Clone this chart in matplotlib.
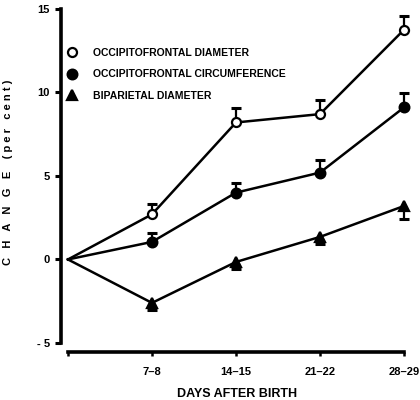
import matplotlib
matplotlib.use("Agg")
import matplotlib.pyplot as plt
import numpy as np

plt.rcParams["font.family"] = ["Liberation Sans", "DejaVu Sans"]

# x = 0 is birth, then the four age groups
days = ["", "7\u20138", "14\u201315", "21\u201322", "28\u201329"]
x = np.arange(len(days))

# per cent change (first point is the common origin)
ofd = [0, 2.7, 8.2, 8.7, 13.75]
ofc = [0, 1.05, 4.0, 5.2, 9.1]
bpd = [0, -2.6, -0.15, 1.35, 3.2]

# one-sided error bars (ofd / ofc upwards, bpd downwards)
ofd_err = [0, 0.6, 0.85, 0.85, 0.85]
ofc_err = [0, 0.55, 0.55, 0.75, 0.85]
bpd_err = [0, 0.45, 0.45, 0.4, 0.8]

labels = [
    "OCCIPITOFRONTAL DIAMETER",
    "OCCIPITOFRONTAL CIRCUMFERENCE",
    "BIPARIETAL DIAMETER",
]

fig = plt.figure(figsize=(4.2, 4.0), dpi=100)
ax = fig.add_axes([0.1452, 0.12, 0.8467, 0.862])
ax.set_xlim(-0.083, 4.15)
ax.set_ylim(-5.54, 15.1)

series = [
    (ofd, ofd_err, 1, dict(marker="o", mfc="white", ms=6.5)),
    (ofc, ofc_err, 1, dict(marker="o", mfc="black", ms=7)),
    (bpd, bpd_err, -1, dict(marker="^", mfc="black", ms=7.5)),
]

for (vals, errs, sign, style), lab in zip(series, labels):
    vals = np.array(vals)
    errs = np.array(errs)
    ends = vals + sign * errs
    # error bars
    ax.vlines(x[1:], vals[1:], ends[1:], color="black", lw=1.6, zorder=2)
    ax.plot(x[1:], ends[1:], ls="none", marker="_", ms=7, mew=2.2,
            color="black", zorder=2)
    # line, no marker at the origin
    ax.plot(x, vals, color="black", lw=1.8, zorder=3)
    ax.plot(x[1:], vals[1:], ls="none", color="black", mec="black",
            mew=1.6, zorder=4, **style)
    # legend entry
    ax.plot([], [], ls="none", color="black", mec="black", mew=1.6,
            label=lab, **style)

leg = ax.legend(loc="upper left", bbox_to_anchor=(0.0225, 0.882),
                frameon=False, handlelength=0.6, handletextpad=1.7,
                labelspacing=1.1, borderpad=0, borderaxespad=0,
                prop=dict(size=7.5, weight="bold"))

# spines
for s in ["top", "right"]:
    ax.spines[s].set_visible(False)
ax.spines["left"].set_bounds(-5, 15)
ax.spines["left"].set_linewidth(2.6)
ax.spines["bottom"].set_bounds(0, 4)
ax.spines["bottom"].set_linewidth(2.6)

ax.set_yticks([-5, 0, 5, 10, 15])
ax.set_yticklabels(["- 5", "0", "5", "10", "15"])
ax.set_xticks(x)
ax.set_xticklabels(days)
ax.tick_params(axis="y", direction="out", length=4, width=2.2, pad=4,
               labelsize=8)
ax.tick_params(axis="x", direction="out", length=3, width=1.8, pad=8,
               labelsize=8)
for t in ax.get_xticklabels() + ax.get_yticklabels():
    t.set_fontweight("bold")

ax.set_xlabel("DAYS AFTER BIRTH", fontsize=9, fontweight="bold")
ax.xaxis.set_label_coords(0.495, -0.103)
ax.set_ylabel("C   H   A   N   G   E    ( p e r   c e n t )", fontsize=8,
              fontweight="bold")
ax.yaxis.set_label_coords(-0.135, 0.52)

fig.savefig("out.png", dpi=100)
